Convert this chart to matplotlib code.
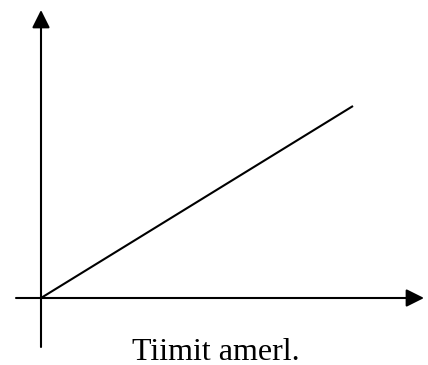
import matplotlib.pyplot as plt

# line values (origin of the axes at 0, 0)
x_vals = [0, 312]
y_vals = [0, 192]
x_label = 'Tiimit amerl.'

fig = plt.figure(figsize=(4.28, 3.65), dpi=100)
ax = fig.add_axes([0, 0, 1, 1])
ax.set_xlim(-41, 387)
ax.set_ylim(-67, 298)
ax.axis('off')

arrow = dict(arrowstyle='-|>,head_length=0.4,head_width=0.2', color='black',
             lw=1.5, mutation_scale=27, shrinkA=0, shrinkB=0)
# x axis
ax.annotate('', xy=(383, 0), xytext=(-25, 0), arrowprops=arrow)
# y axis
ax.annotate('', xy=(0, 288), xytext=(0, -49), arrowprops=arrow)

ax.plot(x_vals, y_vals, color='black', lw=1.5, solid_capstyle='butt')

ax.text(174.5, -62.5, x_label, ha='center', va='baseline',
        fontfamily='Liberation Serif', fontsize=23)

fig.savefig('out.png', dpi=100)
